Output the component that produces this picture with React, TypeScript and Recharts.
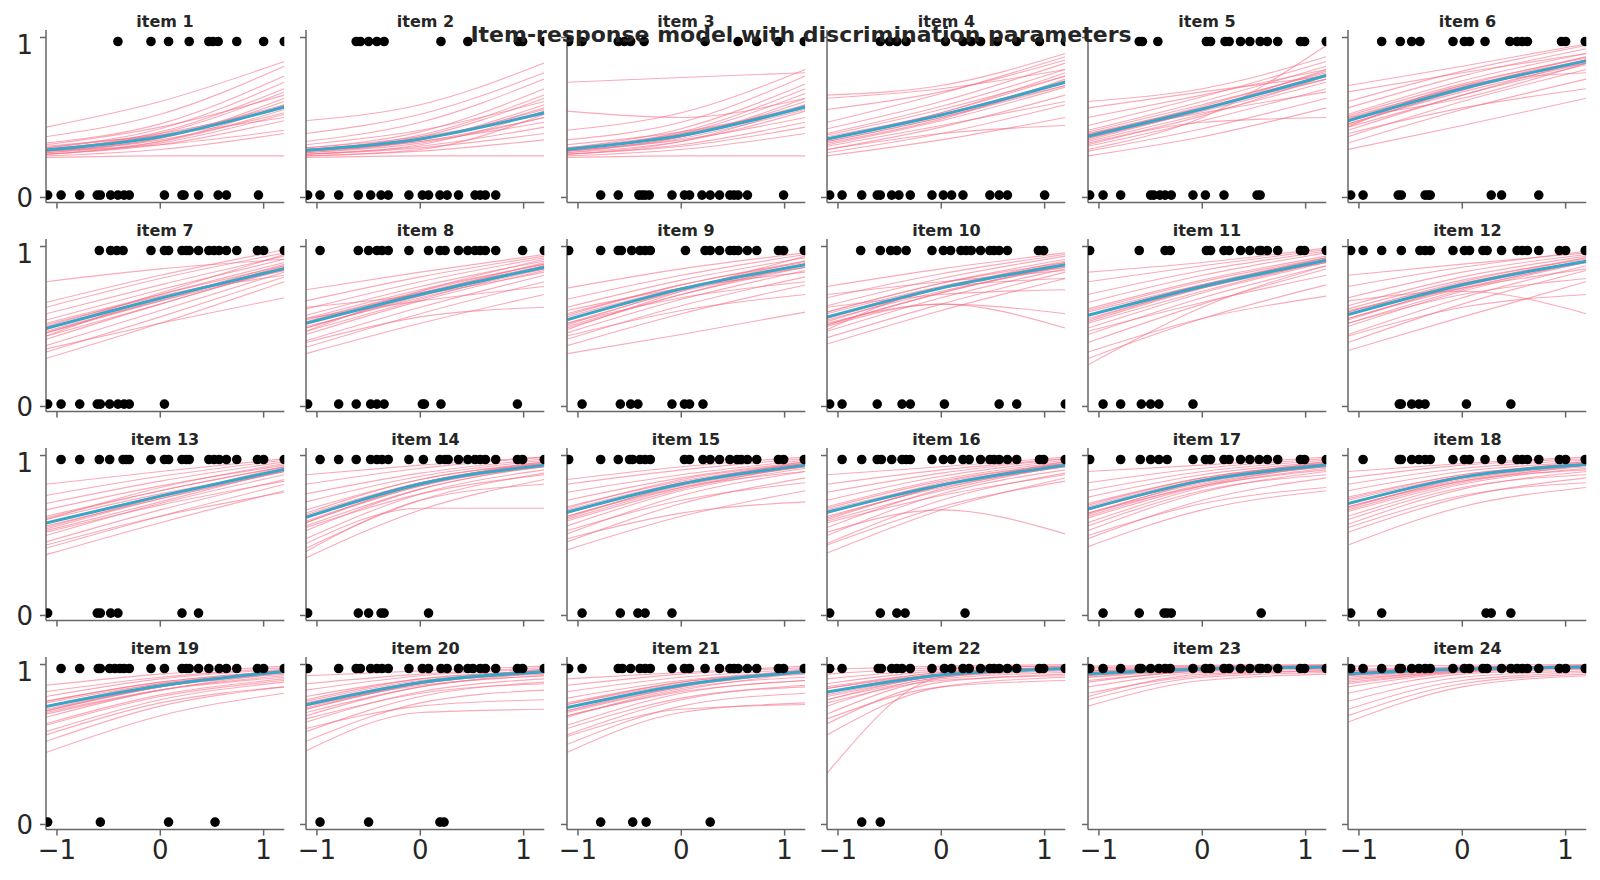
import { ComposedChart, Line, Scatter, XAxis, YAxis } from 'recharts';

// ---- data ----
const ITEM_TITLES = [
  'item 1', 'item 2', 'item 3', 'item 4', 'item 5', 'item 6',
  'item 7', 'item 8', 'item 9', 'item 10', 'item 11', 'item 12',
  'item 13', 'item 14', 'item 15', 'item 16', 'item 17', 'item 18',
  'item 19', 'item 20', 'item 21', 'item 22', 'item 23', 'item 24',
];

// ability grid the curves are read at (left edge, centre, right edge)
const CURVE_X = [-1.106, 0, 1.2];
const X_TICKS = [-1, 0, 1];
const Y_TICKS = [0, 1];
// y where wrong / right answers are drawn
const WRONG_Y = 0.015;
const RIGHT_Y = 0.975;

// posterior mean curve per item: p at CURVE_X
const MEAN_CURVES = [
  [0.297, 0.38, 0.566], [0.295, 0.366, 0.53], [0.3, 0.387, 0.566], [0.366, 0.516, 0.72], [0.383, 0.553, 0.763], [0.48, 0.68, 0.854],
  [0.488, 0.677, 0.862], [0.52, 0.7, 0.87], [0.542, 0.735, 0.886], [0.559, 0.74, 0.886], [0.57, 0.75, 0.914], [0.574, 0.761, 0.908],
  [0.578, 0.746, 0.914], [0.613, 0.822, 0.94], [0.645, 0.822, 0.94], [0.645, 0.815, 0.94], [0.665, 0.843, 0.94], [0.699, 0.865, 0.944],
  [0.738, 0.867, 0.957], [0.748, 0.888, 0.955], [0.731, 0.871, 0.957], [0.828, 0.935, 0.974], [0.942, 0.972, 0.985], [0.942, 0.972, 0.985],
];

// posterior draws per item, spread over the whole band: p at CURVE_X
const SAMPLE_CURVES = [
  [[0.25, 0.26, 0.26], [0.26, 0.3, 0.4], [0.27, 0.33, 0.48], [0.28, 0.35, 0.55], [0.29, 0.37, 0.6], [0.3, 0.4, 0.66], [0.31, 0.43, 0.72], [0.27, 0.34, 0.52], [0.32, 0.39, 0.5], [0.34, 0.46, 0.76], [0.38, 0.52, 0.82], [0.44, 0.6, 0.85], [0.29, 0.33, 0.42], [0.33, 0.44, 0.64]],
  [[0.25, 0.26, 0.26], [0.26, 0.29, 0.36], [0.27, 0.32, 0.44], [0.28, 0.34, 0.5], [0.29, 0.36, 0.56], [0.3, 0.38, 0.62], [0.31, 0.41, 0.68], [0.27, 0.31, 0.4], [0.33, 0.42, 0.6], [0.35, 0.47, 0.74], [0.4, 0.52, 0.78], [0.48, 0.58, 0.84], [0.29, 0.35, 0.47], [0.26, 0.3, 0.52]],
  [[0.25, 0.26, 0.26], [0.26, 0.3, 0.4], [0.27, 0.33, 0.47], [0.28, 0.35, 0.54], [0.29, 0.38, 0.6], [0.3, 0.4, 0.65], [0.31, 0.43, 0.71], [0.27, 0.32, 0.44], [0.33, 0.41, 0.56], [0.36, 0.47, 0.76], [0.42, 0.53, 0.8], [0.72, 0.75, 0.78], [0.54, 0.5, 0.62], [0.29, 0.36, 0.5]],
  [[0.26, 0.36, 0.5], [0.28, 0.4, 0.58], [0.3, 0.44, 0.64], [0.33, 0.48, 0.69], [0.35, 0.5, 0.72], [0.37, 0.53, 0.76], [0.4, 0.57, 0.8], [0.43, 0.6, 0.84], [0.47, 0.65, 0.88], [0.55, 0.66, 0.86], [0.62, 0.68, 0.8], [0.3, 0.4, 0.45], [0.32, 0.45, 0.6], [0.64, 0.7, 0.9]],
  [[0.26, 0.38, 0.56], [0.29, 0.43, 0.62], [0.32, 0.48, 0.68], [0.35, 0.52, 0.72], [0.37, 0.55, 0.76], [0.39, 0.57, 0.79], [0.42, 0.6, 0.82], [0.45, 0.63, 0.85], [0.5, 0.64, 0.8], [0.56, 0.66, 0.76], [0.6, 0.68, 0.88], [0.33, 0.47, 0.5], [0.3, 0.5, 0.95], [0.4, 0.53, 0.66]],
  [[0.3, 0.45, 0.62], [0.34, 0.55, 0.74], [0.38, 0.6, 0.8], [0.42, 0.64, 0.83], [0.46, 0.67, 0.86], [0.49, 0.7, 0.88], [0.52, 0.73, 0.9], [0.56, 0.76, 0.93], [0.6, 0.79, 0.95], [0.66, 0.78, 0.9], [0.7, 0.82, 0.96], [0.4, 0.56, 0.68], [0.44, 0.7, 0.78], [0.5, 0.62, 0.84]],
  [[0.3, 0.52, 0.78], [0.34, 0.56, 0.81], [0.38, 0.6, 0.84], [0.42, 0.64, 0.86], [0.46, 0.66, 0.88], [0.5, 0.7, 0.9], [0.54, 0.73, 0.92], [0.58, 0.76, 0.94], [0.62, 0.8, 0.96], [0.65, 0.82, 0.98], [0.78, 0.86, 0.92], [0.36, 0.52, 0.68], [0.44, 0.68, 0.82], [0.48, 0.71, 0.95]],
  [[0.33, 0.52, 0.7], [0.37, 0.58, 0.78], [0.41, 0.62, 0.82], [0.45, 0.66, 0.85], [0.49, 0.69, 0.87], [0.53, 0.72, 0.89], [0.57, 0.75, 0.91], [0.61, 0.78, 0.93], [0.66, 0.81, 0.94], [0.73, 0.84, 0.95], [0.4, 0.56, 0.62], [0.55, 0.66, 0.75], [0.47, 0.72, 0.92], [0.62, 0.7, 0.84]],
  [[0.33, 0.45, 0.59], [0.38, 0.58, 0.76], [0.42, 0.63, 0.81], [0.46, 0.67, 0.85], [0.5, 0.7, 0.87], [0.54, 0.73, 0.89], [0.58, 0.76, 0.91], [0.62, 0.79, 0.93], [0.67, 0.82, 0.95], [0.74, 0.86, 0.96], [0.44, 0.6, 0.7], [0.52, 0.68, 0.78], [0.6, 0.74, 0.84], [0.48, 0.72, 0.94]],
  [[0.39, 0.6, 0.8], [0.43, 0.64, 0.84], [0.47, 0.68, 0.86], [0.51, 0.71, 0.88], [0.55, 0.74, 0.9], [0.59, 0.77, 0.92], [0.63, 0.8, 0.94], [0.68, 0.83, 0.95], [0.75, 0.86, 0.96], [0.5, 0.64, 0.49], [0.52, 0.64, 0.58], [0.62, 0.7, 0.73], [0.48, 0.74, 0.8], [0.7, 0.78, 0.85]],
  [[0.4, 0.64, 0.86], [0.45, 0.68, 0.88], [0.49, 0.71, 0.9], [0.53, 0.74, 0.91], [0.57, 0.76, 0.93], [0.61, 0.79, 0.94], [0.65, 0.82, 0.96], [0.7, 0.85, 0.97], [0.78, 0.88, 0.98], [0.84, 0.9, 0.99], [0.26, 0.62, 0.88], [0.3, 0.55, 0.76], [0.34, 0.55, 0.69], [0.47, 0.65, 0.82]],
  [[0.35, 0.56, 0.78], [0.4, 0.64, 0.85], [0.45, 0.68, 0.88], [0.5, 0.72, 0.9], [0.55, 0.75, 0.91], [0.59, 0.78, 0.93], [0.63, 0.81, 0.94], [0.68, 0.84, 0.95], [0.75, 0.87, 0.97], [0.82, 0.89, 0.96], [0.66, 0.72, 0.58], [0.44, 0.62, 0.7], [0.52, 0.7, 0.8], [0.6, 0.74, 0.86]],
  [[0.38, 0.58, 0.78], [0.42, 0.62, 0.82], [0.46, 0.66, 0.85], [0.5, 0.7, 0.88], [0.54, 0.73, 0.9], [0.58, 0.75, 0.91], [0.62, 0.78, 0.93], [0.66, 0.81, 0.94], [0.7, 0.84, 0.96], [0.75, 0.87, 0.97], [0.82, 0.9, 0.98], [0.44, 0.62, 0.77], [0.52, 0.69, 0.84], [0.6, 0.8, 0.95]],
  [[0.36, 0.66, 0.85], [0.42, 0.72, 0.89], [0.48, 0.76, 0.91], [0.53, 0.79, 0.93], [0.58, 0.81, 0.94], [0.62, 0.83, 0.95], [0.66, 0.85, 0.96], [0.71, 0.87, 0.97], [0.76, 0.89, 0.98], [0.82, 0.92, 0.99], [0.88, 0.94, 0.99], [0.45, 0.67, 0.67], [0.4, 0.72, 0.82], [0.55, 0.76, 0.88]],
  [[0.41, 0.62, 0.78], [0.46, 0.7, 0.86], [0.51, 0.75, 0.9], [0.56, 0.78, 0.92], [0.6, 0.8, 0.93], [0.64, 0.82, 0.94], [0.68, 0.84, 0.95], [0.72, 0.86, 0.96], [0.77, 0.88, 0.97], [0.82, 0.91, 0.98], [0.85, 0.93, 0.99], [0.48, 0.64, 0.71], [0.53, 0.72, 0.83], [0.62, 0.8, 0.9]],
  [[0.39, 0.66, 0.86], [0.45, 0.72, 0.89], [0.5, 0.76, 0.91], [0.55, 0.79, 0.93], [0.6, 0.81, 0.94], [0.64, 0.83, 0.95], [0.68, 0.85, 0.96], [0.72, 0.87, 0.97], [0.77, 0.89, 0.98], [0.82, 0.91, 0.98], [0.88, 0.93, 0.99], [0.52, 0.66, 0.51], [0.44, 0.68, 0.84], [0.58, 0.75, 0.88]],
  [[0.43, 0.66, 0.78], [0.48, 0.72, 0.86], [0.53, 0.77, 0.9], [0.58, 0.8, 0.92], [0.62, 0.82, 0.93], [0.66, 0.84, 0.94], [0.7, 0.86, 0.95], [0.74, 0.88, 0.96], [0.78, 0.9, 0.97], [0.83, 0.92, 0.98], [0.9, 0.94, 0.99], [0.5, 0.7, 0.8], [0.56, 0.78, 0.88], [0.64, 0.81, 0.91]],
  [[0.44, 0.68, 0.8], [0.52, 0.74, 0.86], [0.57, 0.79, 0.9], [0.62, 0.82, 0.92], [0.66, 0.84, 0.93], [0.7, 0.86, 0.94], [0.74, 0.88, 0.95], [0.78, 0.9, 0.96], [0.82, 0.92, 0.97], [0.86, 0.94, 0.98], [0.9, 0.95, 0.99], [0.55, 0.75, 0.83], [0.6, 0.8, 0.88], [0.68, 0.84, 0.91]],
  [[0.45, 0.68, 0.82], [0.52, 0.74, 0.86], [0.58, 0.78, 0.89], [0.63, 0.81, 0.91], [0.67, 0.84, 0.93], [0.71, 0.86, 0.94], [0.74, 0.88, 0.95], [0.77, 0.89, 0.96], [0.8, 0.91, 0.97], [0.83, 0.92, 0.98], [0.87, 0.94, 0.99], [0.56, 0.76, 0.86], [0.62, 0.8, 0.9], [0.7, 0.84, 0.92]],
  [[0.46, 0.7, 0.72], [0.52, 0.76, 0.84], [0.58, 0.8, 0.89], [0.64, 0.83, 0.91], [0.68, 0.86, 0.93], [0.72, 0.88, 0.94], [0.76, 0.89, 0.95], [0.8, 0.91, 0.96], [0.84, 0.93, 0.97], [0.88, 0.94, 0.98], [0.93, 0.96, 0.99], [0.6, 0.74, 0.78], [0.66, 0.82, 0.88], [0.74, 0.87, 0.93]],
  [[0.45, 0.7, 0.76], [0.5, 0.74, 0.82], [0.56, 0.78, 0.87], [0.62, 0.82, 0.9], [0.67, 0.85, 0.92], [0.71, 0.87, 0.94], [0.75, 0.89, 0.95], [0.79, 0.9, 0.96], [0.83, 0.92, 0.97], [0.87, 0.94, 0.98], [0.91, 0.95, 0.99], [0.55, 0.72, 0.75], [0.6, 0.79, 0.86], [0.68, 0.83, 0.9]],
  [[0.56, 0.86, 0.92], [0.63, 0.89, 0.94], [0.69, 0.91, 0.95], [0.74, 0.92, 0.96], [0.78, 0.93, 0.97], [0.82, 0.94, 0.97], [0.85, 0.95, 0.98], [0.88, 0.96, 0.98], [0.91, 0.97, 0.99], [0.94, 0.98, 0.99], [0.97, 0.99, 1.0], [0.32, 0.92, 0.97], [0.66, 0.86, 0.9], [0.76, 0.9, 0.93]],
  [[0.74, 0.9, 0.94], [0.78, 0.92, 0.95], [0.82, 0.93, 0.96], [0.86, 0.95, 0.97], [0.89, 0.96, 0.975], [0.92, 0.97, 0.98], [0.94, 0.975, 0.985], [0.96, 0.98, 0.99], [0.97, 0.985, 0.99], [0.98, 0.99, 0.995], [0.99, 0.995, 1.0], [0.95, 0.975, 0.985], [0.93, 0.97, 0.98], [0.8, 0.94, 0.96]],
  [[0.64, 0.86, 0.93], [0.68, 0.88, 0.94], [0.72, 0.9, 0.95], [0.77, 0.92, 0.96], [0.82, 0.94, 0.97], [0.86, 0.95, 0.975], [0.9, 0.96, 0.98], [0.93, 0.97, 0.985], [0.95, 0.98, 0.99], [0.97, 0.985, 0.99], [0.99, 0.995, 1.0], [0.96, 0.98, 0.99], [0.88, 0.955, 0.98], [0.92, 0.965, 0.98]],
];

// extra posterior draws in the dense core of each band, close to the mean
const CORE_CURVES = [
  [[0.28, 0.36, 0.53], [0.3, 0.39, 0.58], [0.29, 0.37, 0.62], [0.31, 0.4, 0.56], [0.27, 0.35, 0.58], [0.3, 0.41, 0.68]],
  [[0.28, 0.35, 0.5], [0.3, 0.37, 0.55], [0.29, 0.36, 0.58], [0.31, 0.38, 0.52], [0.27, 0.33, 0.54], [0.3, 0.39, 0.64]],
  [[0.28, 0.37, 0.55], [0.3, 0.39, 0.58], [0.29, 0.38, 0.62], [0.31, 0.4, 0.57], [0.27, 0.35, 0.58], [0.3, 0.41, 0.68]],
  [[0.35, 0.5, 0.7], [0.37, 0.52, 0.73], [0.36, 0.53, 0.78], [0.38, 0.52, 0.7], [0.34, 0.49, 0.74], [0.39, 0.55, 0.76]],
  [[0.37, 0.54, 0.74], [0.39, 0.56, 0.77], [0.36, 0.55, 0.8], [0.4, 0.56, 0.74], [0.34, 0.51, 0.76], [0.41, 0.58, 0.78]],
  [[0.46, 0.66, 0.84], [0.48, 0.69, 0.86], [0.45, 0.68, 0.88], [0.5, 0.69, 0.84], [0.44, 0.64, 0.86], [0.51, 0.71, 0.87]],
  [[0.47, 0.66, 0.85], [0.49, 0.68, 0.87], [0.46, 0.67, 0.89], [0.51, 0.69, 0.85], [0.44, 0.64, 0.87], [0.52, 0.7, 0.88]],
  [[0.5, 0.68, 0.86], [0.52, 0.71, 0.88], [0.49, 0.7, 0.9], [0.54, 0.71, 0.86], [0.47, 0.67, 0.88], [0.55, 0.73, 0.89]],
  [[0.52, 0.72, 0.87], [0.54, 0.74, 0.89], [0.51, 0.73, 0.91], [0.56, 0.74, 0.87], [0.49, 0.7, 0.89], [0.57, 0.76, 0.9]],
  [[0.54, 0.72, 0.87], [0.56, 0.75, 0.89], [0.53, 0.74, 0.91], [0.58, 0.75, 0.87], [0.51, 0.71, 0.89], [0.59, 0.77, 0.9]],
  [[0.55, 0.74, 0.9], [0.57, 0.76, 0.92], [0.54, 0.75, 0.93], [0.59, 0.76, 0.9], [0.52, 0.72, 0.91], [0.6, 0.78, 0.93]],
  [[0.55, 0.74, 0.9], [0.57, 0.77, 0.91], [0.54, 0.76, 0.93], [0.59, 0.77, 0.9], [0.52, 0.73, 0.91], [0.61, 0.79, 0.92]],
  [[0.56, 0.73, 0.9], [0.58, 0.75, 0.92], [0.55, 0.74, 0.93], [0.6, 0.76, 0.9], [0.53, 0.71, 0.91], [0.61, 0.78, 0.93]],
  [[0.59, 0.81, 0.93], [0.61, 0.83, 0.95], [0.58, 0.82, 0.96], [0.63, 0.83, 0.93], [0.56, 0.79, 0.94], [0.64, 0.85, 0.95]],
  [[0.62, 0.81, 0.93], [0.64, 0.83, 0.95], [0.61, 0.82, 0.96], [0.66, 0.83, 0.93], [0.59, 0.79, 0.94], [0.67, 0.85, 0.95]],
  [[0.62, 0.8, 0.93], [0.64, 0.82, 0.95], [0.61, 0.81, 0.96], [0.66, 0.82, 0.93], [0.59, 0.78, 0.94], [0.67, 0.84, 0.95]],
  [[0.64, 0.83, 0.93], [0.66, 0.85, 0.95], [0.63, 0.84, 0.96], [0.68, 0.85, 0.93], [0.61, 0.81, 0.94], [0.69, 0.86, 0.95]],
  [[0.68, 0.85, 0.94], [0.7, 0.87, 0.95], [0.67, 0.86, 0.96], [0.72, 0.87, 0.94], [0.65, 0.83, 0.94], [0.73, 0.88, 0.95]],
  [[0.72, 0.86, 0.95], [0.74, 0.87, 0.96], [0.71, 0.86, 0.97], [0.76, 0.88, 0.95], [0.69, 0.84, 0.95], [0.77, 0.89, 0.96]],
  [[0.73, 0.88, 0.95], [0.75, 0.89, 0.96], [0.72, 0.88, 0.97], [0.77, 0.9, 0.95], [0.7, 0.86, 0.95], [0.78, 0.91, 0.96]],
  [[0.71, 0.86, 0.95], [0.73, 0.87, 0.96], [0.7, 0.86, 0.97], [0.75, 0.88, 0.95], [0.68, 0.84, 0.95], [0.76, 0.89, 0.96]],
  [[0.81, 0.93, 0.97], [0.83, 0.94, 0.975], [0.8, 0.93, 0.98], [0.85, 0.94, 0.97], [0.78, 0.92, 0.97], [0.86, 0.95, 0.98]],
  [[0.93, 0.97, 0.98], [0.94, 0.975, 0.985], [0.92, 0.965, 0.985], [0.95, 0.98, 0.99], [0.9, 0.96, 0.98], [0.96, 0.98, 0.99]],
  [[0.93, 0.97, 0.98], [0.94, 0.975, 0.985], [0.91, 0.96, 0.985], [0.95, 0.98, 0.99], [0.89, 0.955, 0.98], [0.96, 0.98, 0.99]],
];

// abilities of students answering right
const RIGHT_X = [
  [-0.41, -0.09, 0.08, 0.28, 0.47, 0.51, 0.56, 0.74, 1.0, 1.2],
  [-0.62, -0.58, -0.5, -0.42, -0.35, 0.2, 0.46, 0.95, 0.99, 1.2],
  [-1.09, -0.96, -0.61, -0.55, -0.49, -0.36, 0.23, 0.55, 0.73, 0.94, 1.19],
  [-0.59, -0.5, -0.43, -0.34, 0.04, 0.21, 0.29, 0.38, 0.54, 0.73, 0.95, 1.2],
  [-0.61, -0.58, -0.43, 0.04, 0.08, 0.22, 0.26, 0.37, 0.46, 0.56, 0.63, 0.73, 0.95, 0.99, 1.2],
  [-0.78, -0.6, -0.49, -0.41, -0.09, 0.02, 0.07, 0.22, 0.46, 0.53, 0.58, 0.63, 0.96, 1.0, 1.19],
  [-0.59, -0.48, -0.42, -0.36, -0.09, 0.04, 0.08, 0.21, 0.25, 0.28, 0.37, 0.47, 0.52, 0.57, 0.64, 0.74, 0.94, 1.0, 1.2],
  [-0.97, -0.6, -0.5, -0.42, -0.37, -0.31, -0.11, 0.08, 0.19, 0.24, 0.37, 0.46, 0.53, 0.58, 0.63, 0.73, 0.99, 1.2],
  [-1.09, -0.78, -0.61, -0.58, -0.48, -0.4, -0.35, -0.3, 0.04, 0.23, 0.28, 0.37, 0.47, 0.51, 0.55, 0.64, 0.73, 0.94, 0.99, 1.19],
  [-0.78, -0.59, -0.49, -0.43, -0.34, -0.09, 0.02, 0.09, 0.19, 0.24, 0.29, 0.38, 0.47, 0.51, 0.56, 0.64, 0.94, 0.99],
  [-1.09, -0.61, -0.36, -0.31, 0.04, 0.08, 0.21, 0.26, 0.37, 0.46, 0.55, 0.57, 0.63, 0.73, 0.95, 0.99, 1.2],
  [-1.08, -0.96, -0.78, -0.59, -0.41, -0.36, -0.31, -0.09, 0.02, 0.07, 0.2, 0.24, 0.38, 0.53, 0.58, 0.63, 0.74, 0.94, 1.0, 1.19],
  [-0.96, -0.78, -0.59, -0.49, -0.36, -0.33, -0.3, -0.09, 0.04, 0.08, 0.21, 0.25, 0.28, 0.47, 0.52, 0.57, 0.64, 0.74, 0.94, 1.0, 1.2],
  [-0.97, -0.79, -0.62, -0.48, -0.42, -0.37, -0.31, -0.11, 0.03, 0.19, 0.24, 0.27, 0.37, 0.46, 0.53, 0.58, 0.63, 0.73, 0.94, 0.99, 1.2],
  [-1.09, -0.78, -0.61, -0.5, -0.47, -0.4, -0.35, -0.3, 0.03, 0.08, 0.21, 0.28, 0.37, 0.47, 0.54, 0.58, 0.64, 0.73, 0.94, 0.99, 1.19],
  [-0.96, -0.77, -0.62, -0.58, -0.48, -0.38, -0.34, -0.3, -0.09, 0.02, 0.1, 0.21, 0.27, 0.38, 0.47, 0.51, 0.56, 0.64, 0.73, 0.95, 0.99, 1.2],
  [-1.09, -0.79, -0.6, -0.5, -0.42, -0.34, -0.09, 0.03, 0.08, 0.21, 0.26, 0.37, 0.46, 0.55, 0.63, 0.73, 0.95, 0.99, 1.2],
  [-0.96, -0.61, -0.59, -0.49, -0.42, -0.36, -0.31, -0.09, 0.02, 0.07, 0.22, 0.38, 0.53, 0.58, 0.63, 0.74, 0.94, 1.0, 1.19],
  [-0.96, -0.78, -0.6, -0.58, -0.49, -0.44, -0.39, -0.35, -0.3, -0.09, 0.04, 0.21, 0.25, 0.28, 0.37, 0.47, 0.57, 0.64, 0.74, 0.94, 1.0, 1.2],
  [-1.09, -0.79, -0.62, -0.58, -0.48, -0.42, -0.37, -0.31, -0.11, 0.02, 0.08, 0.2, 0.26, 0.37, 0.46, 0.51, 0.58, 0.63, 0.73, 0.94, 0.99, 1.2],
  [-1.09, -0.96, -0.61, -0.57, -0.49, -0.4, -0.35, -0.3, -0.09, 0.03, 0.08, 0.23, 0.37, 0.47, 0.51, 0.55, 0.64, 0.73, 0.94, 0.99, 1.19],
  [-1.08, -0.96, -0.61, -0.58, -0.48, -0.43, -0.38, -0.3, -0.09, 0.03, 0.1, 0.21, 0.27, 0.38, 0.47, 0.51, 0.56, 0.64, 0.73, 0.95, 0.99, 1.2],
  [-1.09, -0.96, -0.79, -0.61, -0.59, -0.5, -0.42, -0.36, -0.31, -0.09, 0.03, 0.08, 0.21, 0.26, 0.37, 0.46, 0.55, 0.57, 0.63, 0.73, 0.95, 0.99, 1.2],
  [-1.08, -0.96, -0.78, -0.61, -0.59, -0.49, -0.42, -0.36, -0.31, -0.09, 0.02, 0.07, 0.2, 0.24, 0.38, 0.47, 0.53, 0.58, 0.63, 0.74, 0.94, 1.0, 1.19],
];

// abilities of students answering wrong
const WRONG_X = [
  [-1.09, -0.96, -0.78, -0.61, -0.58, -0.48, -0.41, -0.35, -0.3, 0.04, 0.21, 0.23, 0.37, 0.56, 0.64, 0.95],
  [-1.09, -0.97, -0.79, -0.6, -0.48, -0.38, -0.31, -0.11, 0.02, 0.08, 0.19, 0.26, 0.37, 0.53, 0.58, 0.63, 0.73],
  [-0.78, -0.61, -0.41, -0.38, -0.35, -0.31, -0.09, 0.03, 0.08, 0.2, 0.28, 0.37, 0.47, 0.51, 0.55, 0.64, 0.99],
  [-1.08, -0.96, -0.77, -0.62, -0.59, -0.48, -0.41, -0.3, -0.09, 0.02, 0.1, 0.21, 0.47, 0.56, 0.64, 1.0],
  [-1.09, -0.96, -0.79, -0.5, -0.47, -0.41, -0.36, -0.3, -0.09, 0.03, 0.21, 0.53, 0.56],
  [-1.08, -0.96, -0.62, -0.59, -0.36, -0.33, -0.31, 0.28, 0.38, 0.74],
  [-1.09, -0.96, -0.78, -0.61, -0.58, -0.49, -0.41, -0.35, -0.3, 0.04],
  [-1.09, -0.79, -0.62, -0.48, -0.42, -0.35, 0.02, 0.04, 0.2, 0.94],
  [-0.96, -0.59, -0.49, -0.42, -0.09, 0.03, 0.08, 0.21],
  [-1.08, -0.96, -0.62, -0.38, -0.3, 0.03, 0.56, 0.73, 1.2],
  [-0.96, -0.79, -0.59, -0.5, -0.42, -0.09],
  [-0.61, -0.59, -0.49, -0.42, -0.36, 0.04, 0.47],
  [-1.09, -0.61, -0.58, -0.48, -0.41, 0.21, 0.37],
  [-1.09, -0.6, -0.5, -0.38, -0.35, 0.08],
  [-0.96, -0.59, -0.42, -0.35, -0.09],
  [-1.08, -0.59, -0.43, -0.35, 0.23],
  [-0.96, -0.61, -0.37, -0.34, -0.3, 0.57],
  [-1.08, -0.78, 0.23, 0.28, 0.47],
  [-1.09, -0.58, 0.08, 0.53],
  [-0.97, -0.5, 0.19, 0.23],
  [-0.78, -0.47, -0.34, 0.28],
  [-0.77, -0.59],
  [],
  [],
];

// ---- layout ----
const FIG_W = 1600;
const FIG_H = 880;
const FONT = "'DejaVu Sans', sans-serif";
const TEXT = '#262626';
const SPINE = '#666666';
const PINK = '#f77189';
const BLUE = '#38a6c8';

const COL_X0 = 45.8;
const COL_STEP = 260.5;
const PLOT_W = 238.3;
const ROW_Y0 = 30.4;
const ROW_STEP = 209;
const PLOT_H = 172.6;
const Y_AXIS_W = 50;
const X_AXIS_H = 45;
const RIGHT_PAD = 4;
const X_DOMAIN = [CURVE_X[0], CURVE_X[2]];
const Y_DOMAIN = [-0.032, 1.047];

const toPoints = (vals: number[]) => vals.map((y, i) => ({ x: CURVE_X[i], y }));
const minusSign = (v: number) => String(v).replace('-', '\u2212');
const blank = () => '';

const Dot = (p: any) => <circle cx={p.cx} cy={p.cy} r={4.8} fill="#000000" />;

function Panel({ idx }: { idx: number }) {
  const col = idx % 6;
  const row = Math.floor(idx / 6);
  const left = COL_X0 + col * COL_STEP - Y_AXIS_W;
  const top = ROW_Y0 + row * ROW_STEP;
  const showY = col === 0;
  const showX = row === 3;
  const draws = [...SAMPLE_CURVES[idx], ...CORE_CURVES[idx]];
  const dots = [
    ...RIGHT_X[idx].map((x) => ({ x, y: RIGHT_Y })),
    ...WRONG_X[idx].map((x) => ({ x, y: WRONG_Y })),
  ];
  const axisStyle = { stroke: SPINE, strokeWidth: 1.5 };
  return (
    <div style={{ position: 'absolute', left, top }}>
      <ComposedChart
        width={Y_AXIS_W + PLOT_W + RIGHT_PAD}
        height={PLOT_H + X_AXIS_H}
        margin={{ top: 0, right: RIGHT_PAD, bottom: 0, left: 0 }}
      >
        <XAxis
          type="number"
          dataKey="x"
          domain={X_DOMAIN}
          allowDataOverflow
          ticks={X_TICKS}
          height={X_AXIS_H}
          axisLine={axisStyle}
          tickLine={axisStyle}
          tickSize={6}
          tickMargin={5}
          tickFormatter={showX ? minusSign : blank}
          tick={{ fontSize: 26, fill: TEXT, fontFamily: FONT }}
        />
        <YAxis
          type="number"
          dataKey="y"
          domain={Y_DOMAIN}
          allowDataOverflow
          ticks={Y_TICKS}
          width={Y_AXIS_W}
          axisLine={axisStyle}
          tickLine={axisStyle}
          tickSize={6}
          tickMargin={7}
          tickFormatter={showY ? minusSign : blank}
          tick={{ fontSize: 26, fill: TEXT, fontFamily: FONT }}
        />
        {draws.map((c, k) => (
          <Line
            key={k}
            data={toPoints(c)}
            dataKey="y"
            type="monotone"
            stroke={PINK}
            strokeOpacity={0.6}
            strokeWidth={1.1}
            dot={false}
            activeDot={false}
            isAnimationActive={false}
          />
        ))}
        <Line
          data={toPoints(MEAN_CURVES[idx])}
          dataKey="y"
          type="monotone"
          stroke={BLUE}
          strokeWidth={3}
          dot={false}
          activeDot={false}
          isAnimationActive={false}
        />
        <Scatter data={dots} dataKey="y" shape={Dot} isAnimationActive={false} />
      </ComposedChart>
    </div>
  );
}

export default function App() {
  return (
    <div
      style={{
        position: 'absolute',
        left: 0,
        top: 0,
        width: FIG_W,
        height: FIG_H,
        background: '#ffffff',
        fontFamily: FONT,
      }}
    >
      {ITEM_TITLES.map((_, i) => (
        <Panel key={i} idx={i} />
      ))}
      <svg
        width={FIG_W}
        height={FIG_H}
        style={{ position: 'absolute', left: 0, top: 0, pointerEvents: 'none' }}
      >
        {ITEM_TITLES.map((t, i) => (
          <text
            key={t}
            x={COL_X0 + (i % 6) * COL_STEP + PLOT_W / 2}
            y={27 + Math.floor(i / 6) * ROW_STEP}
            textAnchor="middle"
            fontFamily={FONT}
            fontWeight="bold"
            fontSize={16}
            fill={TEXT}
          >
            {t}
          </text>
        ))}
        <text
          x={801}
          y={42}
          textAnchor="middle"
          fontFamily={FONT}
          fontWeight="bold"
          fontSize={22}
          fill={TEXT}
        >
          Item-response model with discrimination parameters
        </text>
      </svg>
    </div>
  );
}
